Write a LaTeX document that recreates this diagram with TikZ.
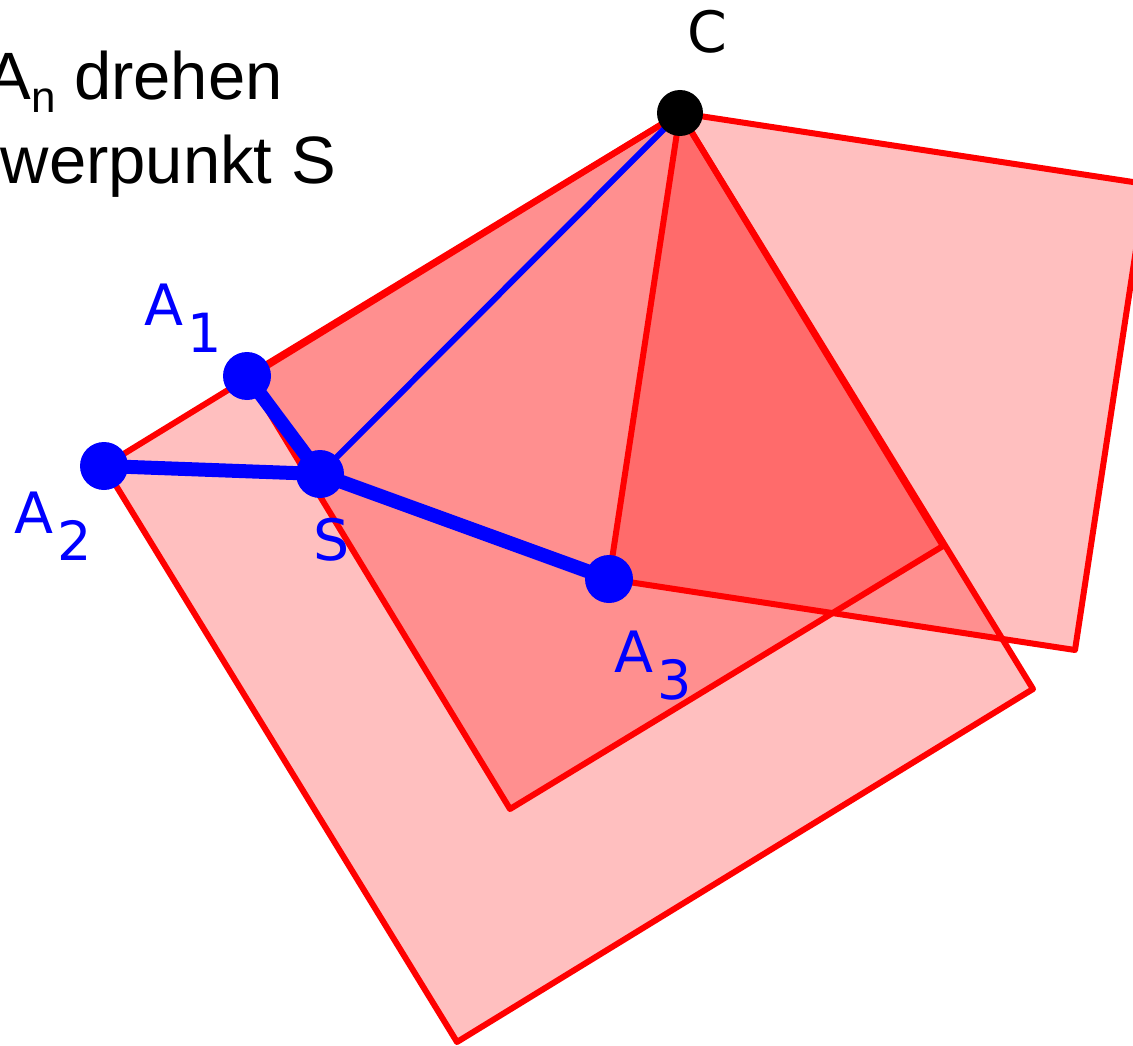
\documentclass[tikz,border=0pt]{standalone}
\usepackage{fontspec}
\setmainfont{Liberation Sans}
\newfontfamily\labfont{DejaVu Sans}
\newcommand{\lsub}[1]{\kern4pt\raisebox{-27pt}{\fontsize{54}{54}\selectfont #1}}
\begin{document}
\begin{tikzpicture}[x=1pt,y=-1pt,
  sq/.style={draw=red, line width=6pt, line join=round, fill=red, fill opacity=0.25},
  bluethin/.style={draw=blue, line width=6pt},
  bluethick/.style={draw=blue, line width=14pt},
  bdot/.style={circle, fill=blue, inner sep=0pt, minimum size=48pt},
  kdot/.style={circle, fill=black, inner sep=0pt, minimum size=46pt},
  lab/.style={font=\labfont\fontsize{57}{57}\selectfont, text=blue, inner sep=0pt, anchor=base west},
  title/.style={font=\fontsize{67}{80}\selectfont, inner sep=0pt, anchor=base east}]
\useasboundingbox (0,0) rectangle (1133,1046);
\clip (0,0) rectangle (1133,1046);
\fill[white] (0,0) rectangle (1133,1046);
% points
\coordinate (C) at (680,113);
\coordinate (A1) at (247,376);
\coordinate (A2) at (104,466);
\coordinate (A3) at (609,579);
\coordinate (S) at (320,474);
% square corners
\coordinate (P1) at (1033,689);
\coordinate (Q1) at (457,1042);
\coordinate (P2) at (943,546);
\coordinate (Q2) at (510,809);
\coordinate (P3) at (1146,184);
\coordinate (Q3) at (1075,650);
% squares
\path[sq] (A2) -- (C) -- (P1) -- (Q1) -- cycle;
\path[sq] (A1) -- (C) -- (P2) -- (Q2) -- cycle;
\path[sq] (A3) -- (C) -- (P3) -- (Q3) -- cycle;
% blue connectors
\draw[bluethin] (C) -- (S);
\draw[bluethick] (A1) -- (S);
\draw[bluethick] (A2) -- (S);
\draw[bluethick] (S) -- (A3);
% dots
\node[kdot] (c) at (C) {};
\node[bdot] (a1) at (A1) {};
\node[bdot] (a2) at (A2) {};
\node[bdot] (a3) at (A3) {};
\node[bdot] (s) at (S) {};
% labels
\node[lab, text=black] (lc) at (687,53) {C};
\node[lab] (la1) at (144,325) {A\lsub{1}};
\node[lab] (la2) at (14,533) {A\lsub{2}};
\node[lab] (ls) at (313,560) {S};
\node[lab] (la3) at (614,672) {A\lsub{3}};
% title text (cut by left edge)
\node[title] (t1) at (283,100) {A\raisebox{-13pt}{\fontsize{44}{44}\selectfont n} drehen};
\node[title] (t2) at (336,183) {werpunkt S};
\end{tikzpicture}
\end{document}
